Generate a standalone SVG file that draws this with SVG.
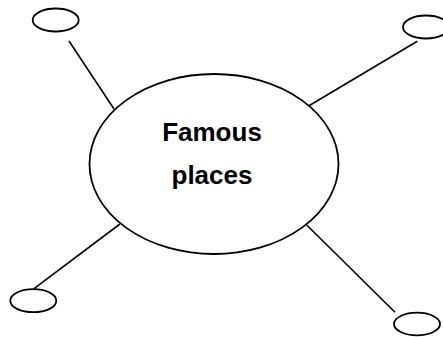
<svg xmlns="http://www.w3.org/2000/svg" width="443" height="337" viewBox="0 0 443 337">
<style>
.n{fill:#fff;stroke:#000;stroke-width:1.8}
.c line{stroke:#000;stroke-width:1.6}
text{font-family:"Liberation Sans",Arial,sans-serif;font-weight:bold;font-size:26px;fill:#000;text-anchor:middle}
</style>
<rect width="443" height="337" fill="#fff"/>
<g id="connectors" class="c">
<line x1="69" y1="41" x2="114" y2="109"/>
<line x1="417.3" y1="41.3" x2="309" y2="105.7"/>
<line x1="34" y1="288.7" x2="120" y2="224"/>
<line x1="395" y1="312.3" x2="306.7" y2="225"/>
</g>
<g id="center"><ellipse class="n" cx="214" cy="164" rx="124.5" ry="90"/>
<text x="212" y="141">Famous</text><text x="212" y="184">places</text></g>
<g id="tl"><ellipse class="n" cx="55.7" cy="20" rx="23" ry="11.5"/></g>
<g id="tr"><ellipse class="n" cx="426" cy="27" rx="23" ry="11.5"/></g>
<g id="bl"><ellipse class="n" cx="33.3" cy="300.7" rx="23" ry="11.5"/></g>
<g id="br"><ellipse class="n" cx="417" cy="324" rx="23" ry="11.3"/></g>
</svg>
